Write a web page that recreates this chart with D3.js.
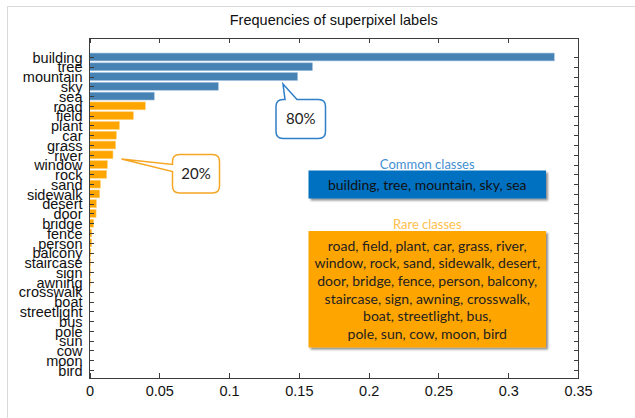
<!DOCTYPE html>
<html>
<head>
<meta charset="utf-8">
<script src="https://cdn.jsdelivr.net/npm/d3@7"></script>
<style>
  html, body { margin: 0; padding: 0; background: #fff; }
  svg { display: block; }
</style>
</head>
<body>
<svg id="chart" width="635" height="418"></svg>
<script>
// ---- data ----
const labels = ["building","tree","mountain","sky","sea","road","field","plant","car","grass","river","window","rock","sand","sidewalk","desert","door","bridge","fence","person","balcony","staircase","sign","awning","crosswalk","boat","streetlight","bus","pole","sun","cow","moon","bird"];
const frequencies = [0.333,0.1597,0.1491,0.0923,0.0464,0.0400,0.0314,0.0214,0.0192,0.0187,0.0168,0.0128,0.0123,0.0078,0.0073,0.0049,0.0047,0.0030,0.0016,0.0015,0.0010,0.0008,0.0007,0.0006,0.0002,0.0002,0.0001,0.0001,0.0001,0.0001,0.00005,0.00005,0.00003];
const commonCount = 5; // first five labels are common classes
const xTicks = [0,0.05,0.1,0.15,0.2,0.25,0.3,0.35];
const xTickLabels = ["0","0.05","0.1","0.15","0.2","0.25","0.3","0.35"];
const titleText = "Frequencies of superpixel labels";
const commonTitle = "Common classes";
const commonText = ["building, tree, mountain, sky, sea"];
const rareTitle = "Rare classes";
const rareText = ["road, field, plant, car, grass, river,","window, rock, sand, sidewalk, desert,","door, bridge, fence, person, balcony,","staircase, sign, awning, crosswalk,","boat, streetlight, bus,","pole, sun, cow, moon, bird"];
const calloutCommon = "80%";
const calloutRare = "20%";

// ---- layout ----
const svg = d3.select("#chart");
const L = 89.5, R = 578, T = 38, B = 378;
const BLUE = "#4682B4", ORANGE = "#FFA500";
const AX = "#3c3c3c";
const axisFont = "'Liberation Sans', Arial, sans-serif";
const noteFont = "Lato, 'Open Sans', sans-serif";

// outer frame
svg.append("rect").attr("x",7.5).attr("y",6.5).attr("width",700).attr("height",500)
  .attr("fill","none").attr("stroke","#d9d9d9").attr("stroke-width",1);

const x = d3.scaleLinear().domain([0,0.35]).range([L,R]);
const y = d3.scaleLinear().domain([-1.94, 32.82]).range([T,B]);
const step = y(1)-y(0);
const barH = step*0.8;

// bars
svg.append("g").selectAll("rect").data(labels).join("rect")
  .attr("x", x(0))
  .attr("y", (d,i)=> y(i)-barH/2)
  .attr("width", (d,i)=> Math.max(0, x(frequencies[i])-x(0)))
  .attr("height", barH)
  .attr("fill", (d,i)=> i<commonCount ? BLUE : ORANGE)
  .attr("stroke", (d,i)=> i<commonCount ? "#9fc1e0" : "#ffcf75")
  .attr("stroke-width", 0.6);

// axes
const idx = d3.range(labels.length);
const yAxisL = d3.axisLeft(y).tickValues(idx).tickFormat(i=>labels[i]).tickSizeInner(-4).tickSizeOuter(0).tickPadding(7);
const yAxisR = d3.axisRight(y).tickValues(idx).tickFormat("").tickSizeInner(-4).tickSizeOuter(0);
const xAxisB = d3.axisBottom(x).tickValues(xTicks).tickFormat((d,i)=>xTickLabels[i]).tickSizeInner(-5).tickSizeOuter(0).tickPadding(8);
const xAxisT = d3.axisTop(x).tickValues(xTicks).tickFormat("").tickSizeInner(-5).tickSizeOuter(0);

function style(g){
  g.select(".domain").remove();
  g.selectAll("line").attr("stroke",AX).attr("shape-rendering","crispEdges");
  g.selectAll("text").attr("fill","#111").attr("font-family",axisFont).attr("font-size","14.5px");
}
svg.append("g").attr("transform",`translate(${L},0)`).call(yAxisL).call(style)
  .selectAll("text").attr("dy","0.36em");
svg.append("g").attr("transform",`translate(${R},0)`).call(yAxisR).call(style);
svg.append("g").attr("transform",`translate(0,${B})`).call(xAxisB).call(style);
svg.append("g").attr("transform",`translate(0,${T})`).call(xAxisT).call(style);

// box
svg.append("rect").attr("x",L).attr("y",T).attr("width",R-L).attr("height",B-T)
  .attr("fill","none").attr("stroke",AX).attr("stroke-width",1).attr("shape-rendering","crispEdges");

// title
svg.append("text").attr("x",(L+R)/2).attr("y",25).attr("text-anchor","middle")
  .attr("font-family",axisFont).attr("font-size","14.5px").attr("fill","#111").text(titleText);

// callout 80%
(function(){
  const x0=276,y0=99.5,x1=325.5,y1=138.5,r=7, t1=285, t2=297, tx=283, ty=84;
  const p = `M${x0+r},${y0} L${t1},${y0} L${tx},${ty} L${t2},${y0} L${x1-r},${y0} Q${x1},${y0} ${x1},${y0+r} L${x1},${y1-r} Q${x1},${y1} ${x1-r},${y1} L${x0+r},${y1} Q${x0},${y1} ${x0},${y1-r} L${x0},${y0+r} Q${x0},${y0} ${x0+r},${y0} Z`;
  svg.append("path").attr("d",p).attr("fill","#fff").attr("stroke","#2f7fc8").attr("stroke-width",1.5);
  svg.append("text").attr("x",(x0+x1)/2).attr("y",(y0+y1)/2+5).attr("text-anchor","middle")
    .attr("font-family",noteFont).attr("font-size","15px").attr("fill","#222").text(calloutCommon);
})();
// callout 20%
(function(){
  const x0=172.5,y0=154.5,x1=219.5,y1=193,r=7, t1=164.5, t2=171.5, tx=121.5, ty=159;
  const p = `M${x0+r},${y0} L${x1-r},${y0} Q${x1},${y0} ${x1},${y0+r} L${x1},${y1-r} Q${x1},${y1} ${x1-r},${y1} L${x0+r},${y1} Q${x0},${y1} ${x0},${y1-r} L${x0},${t2} L${tx},${ty} L${x0},${t1} L${x0},${y0+r} Q${x0},${y0} ${x0+r},${y0} Z`;
  svg.append("path").attr("d",p).attr("fill","#fff").attr("stroke","#f5a623").attr("stroke-width",1.5);
  svg.append("text").attr("x",(x0+x1)/2).attr("y",(y0+y1)/2+5).attr("text-anchor","middle")
    .attr("font-family",noteFont).attr("font-size","15px").attr("fill","#222").text(calloutRare);
})();

// shadow filter
const defs = svg.append("defs");
const f = defs.append("filter").attr("id","sh").attr("x","-5%").attr("y","-10%").attr("width","115%").attr("height","130%");
f.append("feGaussianBlur").attr("in","SourceAlpha").attr("stdDeviation",1.2).attr("result","b");
f.append("feOffset").attr("in","b").attr("dx",2).attr("dy",2).attr("result","o");
f.append("feComponentTransfer").attr("in","o").attr("result","o2").append("feFuncA").attr("type","linear").attr("slope",0.45);
const m = f.append("feMerge"); m.append("feMergeNode").attr("in","o2"); m.append("feMergeNode").attr("in","SourceGraphic");

// Common classes box
const bx0 = 308.5, bx1 = 546;
svg.append("text").attr("x",(bx0+bx1)/2).attr("y",168.5).attr("text-anchor","middle")
  .attr("font-family",noteFont).attr("font-size","13px").attr("fill","#3f8fd2").text(commonTitle);
svg.append("rect").attr("x",bx0).attr("y",170.5).attr("width",bx1-bx0).attr("height",28)
  .attr("fill","#0070C0").attr("filter","url(#sh)");
svg.selectAll("text.ct").data(commonText).join("text").attr("class","ct")
  .attr("x",(bx0+bx1)/2).attr("y",190).attr("text-anchor","middle")
  .attr("font-family",noteFont).attr("font-size","14px").attr("fill","#111").text(d=>d);

// Rare classes box
svg.append("text").attr("x",(bx0+bx1)/2).attr("y",228.5).attr("text-anchor","middle")
  .attr("font-family",noteFont).attr("font-size","13px").attr("fill","#ffc04a").text(rareTitle);
svg.append("rect").attr("x",bx0).attr("y",231).attr("width",bx1-bx0).attr("height",116.5)
  .attr("fill",ORANGE).attr("filter","url(#sh)");
svg.selectAll("text.rt").data(rareText).join("text").attr("class","rt")
  .attr("x",(bx0+bx1)/2).attr("y",(d,i)=>250.5+i*17.7).attr("text-anchor","middle")
  .attr("font-family",noteFont).attr("font-size","14px").attr("fill","#222").text(d=>d);
</script>
</body>
</html>
